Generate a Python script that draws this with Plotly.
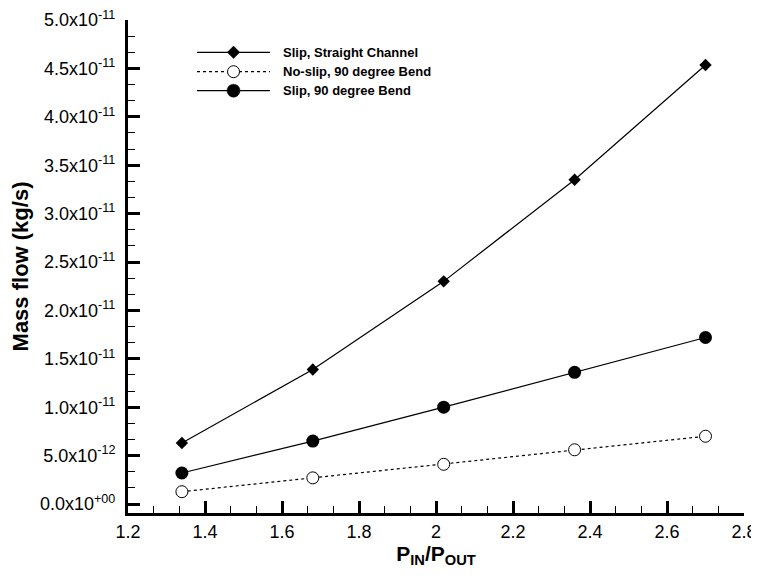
import plotly.graph_objects as go

# ---- data ----
pressure_ratio = [1.34, 1.68, 2.02, 2.36, 2.70]
slip_straight = [6.3e-12, 1.39e-11, 2.30e-11, 3.35e-11, 4.535e-11]
noslip_bend = [1.27e-12, 2.7e-12, 4.1e-12, 5.6e-12, 7.0e-12]
slip_bend = [3.2e-12, 6.5e-12, 1.0e-11, 1.36e-11, 1.72e-11]

series_names = ["Slip, Straight Channel", "No-slip, 90 degree Bend", "Slip, 90 degree Bend"]

y_tickvals = [0.0, 5e-12, 1.0e-11, 1.5e-11, 2.0e-11, 2.5e-11, 3.0e-11, 3.5e-11, 4.0e-11, 4.5e-11, 5.0e-11]
y_ticktext = ["0.0x10<sup>+00</sup>", "5.0x10<sup>-12</sup>", "1.0x10<sup>-11</sup>", "1.5x10<sup>-11</sup>",
              "2.0x10<sup>-11</sup>", "2.5x10<sup>-11</sup>", "3.0x10<sup>-11</sup>", "3.5x10<sup>-11</sup>",
              "4.0x10<sup>-11</sup>", "4.5x10<sup>-11</sup>", "5.0x10<sup>-11</sup>"]
x_tickvals = [1.2, 1.4, 1.6, 1.8, 2.0, 2.2, 2.4, 2.6, 2.8]
x_ticktext = ["1.2", "1.4", "1.6", "1.8", "2", "2.2", "2.4", "2.6", "2.8"]

FONT = "Arial, Liberation Sans, sans-serif"

styles = [
    dict(line=dict(color="black", width=1.2),
         marker=dict(symbol="diamond", size=9.5, color="black")),
    dict(line=dict(color="black", width=1.2, dash="dot"),
         marker=dict(symbol="circle", size=12, color="white", line=dict(color="black", width=1))),
    dict(line=dict(color="black", width=1.2),
         marker=dict(symbol="circle", size=13, color="black")),
]
values = [slip_straight, noslip_bend, slip_bend]

fig = go.Figure()
for name, vals, st in zip(series_names, values, styles):
    fig.add_trace(go.Scatter(x=pressure_ratio, y=vals, name=name, mode="lines+markers",
                             showlegend=False, **st))

# ---- custom legend (long line samples as in the reference) ----
leg_x0, leg_x1, leg_xm, leg_tx = 0.112, 0.2305, 0.1713, 0.249
leg_rows = [0.9345, 0.8951, 0.8566]
dashes = ["solid", "dot", "solid"]
shapes = []
annotations = []
for i, (name, yr) in enumerate(zip(series_names, leg_rows)):
    shapes.append(dict(type="line", xref="paper", yref="paper", x0=leg_x0, x1=leg_x1, y0=yr, y1=yr,
                       line=dict(color="black", width=1.2, dash=dashes[i])))
    if i == 0:
        shapes.append(dict(type="path", xref="paper", yref="paper", xsizemode="pixel", ysizemode="pixel",
                           xanchor=leg_xm, yanchor=yr, path="M-6.2,0 L0,6.2 L6.2,0 L0,-6.2 Z",
                           fillcolor="black", line=dict(color="black", width=0.5)))
    elif i == 1:
        shapes.append(dict(type="circle", xref="paper", yref="paper", xsizemode="pixel", ysizemode="pixel",
                           xanchor=leg_xm, yanchor=yr, x0=-6, x1=6, y0=-6, y1=6,
                           fillcolor="white", line=dict(color="black", width=1)))
    else:
        shapes.append(dict(type="circle", xref="paper", yref="paper", xsizemode="pixel", ysizemode="pixel",
                           xanchor=leg_xm, yanchor=yr, x0=-6.5, x1=6.5, y0=-6.5, y1=6.5,
                           fillcolor="black", line=dict(color="black", width=0.5)))
    annotations.append(dict(text="<b>" + name + "</b>", xref="paper", yref="paper", x=leg_tx, y=yr,
                            xanchor="left", yanchor="middle", showarrow=False,
                            font=dict(size=13, family=FONT, color="black")))

# the page body adds an 8px margin, so the figure is 8px smaller on each side
fig.update_layout(
    width=751, height=568,
    margin=dict(l=120, r=15, t=12, b=63, autoexpand=False),
    plot_bgcolor="white", paper_bgcolor="white",
    font=dict(family=FONT, color="black"),
    showlegend=False,
    shapes=shapes,
    annotations=annotations,
)
fig.update_xaxes(
    range=[1.2, 2.8], automargin=False,
    tickmode="array", tickvals=x_tickvals, ticktext=x_ticktext,
    ticks="inside", ticklen=12, tickwidth=3, tickcolor="black",
    showline=True, linewidth=3, linecolor="black",
    showgrid=False, zeroline=False,
    tickfont=dict(size=18, family=FONT),
    ticklabeloverflow="allow",
    minor=dict(ticks="inside", ticklen=7, tickwidth=1, tickcolor="black", tick0=1.2, dtick=0.2 / 3),
    title=dict(text="<b>P<sub>IN</sub>/P<sub>OUT</sub></b>", font=dict(size=21, family=FONT), standoff=3),
)
fig.update_yaxes(
    range=[-0.093e-11, 5.0e-11], automargin=False,
    tickmode="array", tickvals=y_tickvals, ticktext=y_ticktext,
    ticks="inside", ticklen=12, tickwidth=3, tickcolor="black",
    showline=True, linewidth=3, linecolor="black",
    showgrid=False, zeroline=False,
    tickfont=dict(size=18, family=FONT),
    ticklabelstandoff=6, ticklabeloverflow="allow",
    minor=dict(ticks="inside", ticklen=7, tickwidth=1, tickcolor="black", tick0=0, dtick=0.5e-11 / 3),
    title=dict(text="<b>Mass flow (kg/s)</b>", font=dict(size=22, family=FONT), standoff=8),
)

fig.write_html("out.html")
